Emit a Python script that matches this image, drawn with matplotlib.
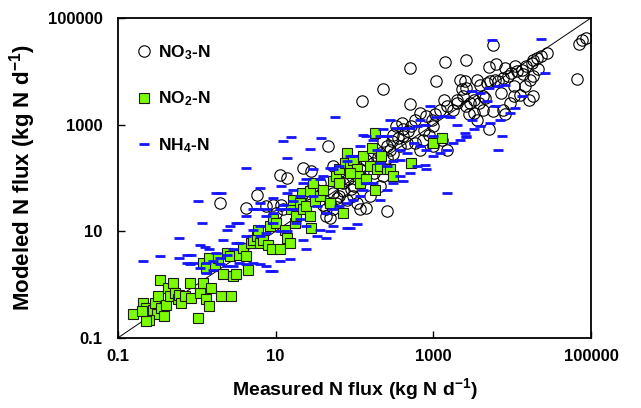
import numpy as np
import matplotlib
matplotlib.use('Agg')
import matplotlib.pyplot as plt
from matplotlib.ticker import FixedLocator, FixedFormatter, NullLocator

plt.rcParams['font.family'] = 'Liberation Sans'
plt.rcParams['font.weight'] = 'bold'
plt.rcParams['mathtext.fontset'] = 'custom'
plt.rcParams['mathtext.rm'] = 'Liberation Sans:bold'
plt.rcParams['mathtext.bf'] = 'Liberation Sans:bold'
plt.rcParams['mathtext.default'] = 'bf'

# values, log10(kg N per day)
no3_meas = [4.94, 4.85, 4.88, 4.82, 3.76, 4.44, 4.37, 4.31, 4.27, 4.25, 4.18, 4.12, 4.06, 3.99, 3.95,
            3.89, 3.82, 3.78, 3.72, 3.68, 3.59, 3.55, 3.80, 3.70, 3.91, 4.04, 4.14, 4.27, 4.23, 4.27,
            4.21, 4.10, 4.02, 3.97, 3.89, 3.91, 3.70, 3.76, 3.63, 3.55, 3.51, 3.47, 3.42, 3.38, 3.36,
            3.40, 3.34, 3.30, 3.25, 3.17, 3.13, 3.08, 3.02, 3.00, 2.98, 2.91, 2.83, 2.77, 2.72, 2.68,
            2.62, 2.60, 2.53, 2.49, 2.47, 2.41, 2.36, 2.70, 3.04, 3.15, 3.42, 2.71, 2.36, 2.10, 3.11,
            3.17, 3.00, 2.87, 2.83, 2.77, 2.66, 2.58, 2.49, 2.41, 2.32, 2.28, 2.24, 2.15, 2.11, 2.07,
            1.98, 1.92, 1.86, 1.81, 1.73, 1.73, 1.69, 1.64, 1.64, 1.69, 1.73, 1.77, 1.81, 1.90, 1.98,
            2.03, 2.07, 2.15, 2.20, 2.32, 2.36, 2.41, 1.66, 1.35, 1.45, 1.05, 1.14, 0.76, 0.63, 0.29,
            0.88, 0.97, 1.07, 1.09, 1.01, 1.31, 1.39, 1.48, 1.56, 4.02, 3.42, 3.51, 3.63,
            3.86, 3.66, 3.45, 3.30, 2.94, 2.55, 2.30, 1.95, 1.60, 3.58, 4.16, 4.33,
            1.78, 1.85, 2.00, 2.12, 2.25, 2.45, 2.62, 2.88]
no3_model = [4.63, 4.51, 4.58, 3.86, 4.50, 4.34, 4.28, 4.25, 4.22, 4.16, 4.09, 4.03, 4.00, 3.97, 3.91,
             3.88, 3.81, 3.84, 3.81, 3.78, 3.75, 3.83, 4.13, 4.08, 4.06, 4.09, 3.94, 3.91, 3.84, 3.53,
             3.47, 3.56, 3.53, 3.41, 3.28, 3.19, 2.92, 3.25, 3.28, 3.09, 3.22, 3.41, 3.34, 3.53, 3.66,
             3.81, 3.84, 3.47, 3.28, 3.34, 3.47, 3.28, 3.19, 2.97, 3.09, 3.16, 3.22, 3.09, 2.97, 2.88,
             2.91, 3.03, 2.97, 2.81, 2.69, 2.59, 2.69, 3.38, 3.81, 4.18, 4.22, 4.06, 3.66, 3.44, 2.72,
             2.53, 2.59, 2.72, 2.53, 2.66, 2.66, 2.59, 2.44, 2.38, 2.47, 2.22, 2.28, 2.34, 2.22, 2.16,
             2.09, 1.97, 1.91, 1.94, 2.22, 1.72, 1.53, 1.41, 1.28, 1.25, 1.41, 1.53, 1.66, 1.59, 1.66,
             1.53, 1.41, 1.44, 1.66, 1.84, 2.03, 1.38, 2.59, 2.19, 2.13, 2.06, 2.00, 1.68, 1.44, 1.53,
             1.47, 1.50, 1.50, 1.41, 1.34, 1.59, 1.69, 1.84, 1.91, 3.72, 3.69, 3.47, 3.53,
             3.60, 3.50, 3.20, 3.40, 2.80, 2.75, 2.40, 1.80, 1.50, 3.40, 3.72, 4.05,
             1.62, 1.75, 1.85, 1.98, 2.10, 2.52, 2.78, 2.90]

no2_meas = [-0.81, -0.68, -0.64, -0.62, -0.60, -0.56, -0.53, -0.51, -0.49, -0.47, -0.45, -0.41, -0.39,
            -0.37, -0.34, -0.30, -0.28, -0.24, -0.22, -0.20, -0.15, -0.09, -0.07, 0.02, 0.04, 0.08,
            0.12, 0.16, 0.18, 0.31, 0.44, -0.60, -0.64, -0.70, 0.08, 0.12, 0.16, 0.23, 0.27, 0.33,
            0.38, 0.42, 0.46, 0.50, 0.54, 0.59, 0.63, 0.65, 0.69, 0.71, 0.76, 0.78, 0.80, 0.84, 0.90,
            0.93, 0.95, 0.97, 1.01, 1.05, 1.12, 1.14, 1.18, 1.20, 1.22, 1.24, 1.26, 1.31, 1.33, 1.35,
            1.39, 1.43, 1.45, 1.43, 1.48, 1.50, 1.56, 1.60, 1.69, 1.73, 1.77, 1.81, 1.86, 1.88, 1.90,
            1.94, 1.98, 2.03, 2.05, 2.07, 2.11, 2.15, 2.20, 2.22, 2.26, 2.26, 2.28, 2.32, 2.34, 2.41,
            2.45, 2.49, 2.72, 3.00, 3.11, 1.94, 1.81]
no2_model = [-0.56, -0.34, -0.44, -0.66, -0.53, -0.47, -0.34, -0.56, -0.22, 0.09, -0.44, -0.59, -0.38,
             -0.06, -0.22, 0.03, -0.16, -0.28, -0.19, -0.34, -0.22, 0.03, -0.25, -0.63, -0.16, 0.03,
             -0.28, -0.41, -0.06, -0.22, -0.22, -0.66, -0.69, -0.50, 0.41, 0.31, 0.50, 0.34, 0.50, 0.19,
             0.59, 0.53, 0.16, 0.19, 0.56, 0.69, 0.53, 0.28, 0.78, 0.84, 0.91, 1.03, 0.78, 0.84, 0.75,
             1.09, 0.66, 1.22, 1.16, 0.66, 1.03, 0.88, 0.78, 1.41, 1.59, 1.16, 1.28, 1.53, 1.72, 1.41,
             1.47, 1.28, 1.06, 1.75, 1.91, 1.56, 1.66, 1.78, 1.53, 1.94, 2.03, 2.16, 1.34, 2.28, 2.47,
             2.22, 2.34, 2.16, 2.03, 1.91, 2.41, 1.97, 2.22, 2.56, 2.84, 1.78, 2.16, 2.22, 2.41, 2.16,
             2.16, 2.03, 2.28, 2.66, 2.75, 2.09, 1.91]

nh4_meas = [3.74, 4.37, 4.42, 3.82, 3.87, 4.12, 3.97, 4.04, 3.78, 3.68, 3.59, 3.49, 3.91, 3.82, 3.70,
            3.49, 3.40, 3.42, 3.30, 3.21, 3.13, 3.04, 2.96, 2.89, 2.83, 2.79, 2.70, 2.62, 2.53, 2.45,
            2.41, 2.36, 2.32, 2.28, 2.24, 2.15, 2.11, 2.07, 1.98, 1.94, 1.90, 1.81, 1.73, 1.69, 1.60,
            1.56, 1.48, 1.39, 1.35, 1.22, 1.14, 1.07, 0.97, 0.88, 0.80, 0.76, 0.71, 0.63, 0.54, 0.50,
            0.42, 0.38, 0.33, 0.25, 0.16, 0.10, 0.04, -0.07, -0.13, -0.22, -0.22, -0.47, -0.68, -0.13,
            -0.09, -0.05, 0.04, 0.12, 0.21, 0.29, 0.38, 0.46, 0.54, 0.63, 0.71, 0.80, 0.88, 0.97, 1.05,
            1.18, 0.93, 0.25, 0.31, 0.02, 0.06, 1.75, 1.20, 1.09, 1.58, 1.43, 1.14, 0.63, 0.80, 1.09,
            1.22, 1.31, 1.35, 1.39, 1.52, 1.64, 1.73, 1.90, 1.94, 2.03, 1.69, 1.56, 1.39, 1.26, 1.14,
            1.05, 0.97, 0.88, 0.80, 2.32, 2.41, 2.49, 2.58, 2.62, 2.70, 2.79, 2.91, 2.89, 3.17, 3.00,
            3.08, 3.17, 3.25, 3.34, 3.42, 3.51, 3.59, 3.72, 3.84, 2.58, 2.49, 2.41, 2.32, 2.24, 2.15,
            2.11, 2.07, 1.98, 1.90, 1.81, 1.73, 1.64, 1.52, 1.48, 1.31, 1.22, 1.14, 1.05, 0.97, 0.88,
            0.80, 0.71, 0.63, 0.54, 0.46, 0.38, 0.29, 0.21, 0.12, 0.50, 2.58, 2.66, 2.75, 2.83, 2.91,
            3.00]
nh4_model = [4.59, 4.61, 3.96, 2.53, 2.79, 3.54, 3.21, 3.31, 3.34, 3.44, 3.59, 3.63, 3.75, 3.72, 3.69,
             3.09, 2.84, 2.76, 3.00, 3.14, 3.17, 3.14, 3.34, 3.00, 3.09, 2.97, 2.94, 2.94, 2.94, 3.09,
             2.78, 2.91, 2.78, 2.53, 2.72, 2.78, 2.81, 2.59, 2.41, 2.41, 2.31, 2.22, 2.16, 2.19, 2.03,
             1.97, 2.16, 1.97, 1.91, 1.78, 1.72, 1.84, 1.63, 1.41, 1.53, 1.41, 1.41, 1.28, 1.16, 1.16,
             1.09, 1.03, 0.84, 0.59, 0.66, 0.71, 0.75, 0.56, 0.56, 0.50, 0.88, 0.53, 0.44, 0.41,
             0.38, 0.41, 0.31, 0.22, 0.28, 0.38, 0.34, 0.34, 0.41, 0.38, 0.41, 0.38, 0.34, 0.25, 0.44,
             0.47, 0.25, 1.72, 1.72, 1.56, 1.16, 3.14, 2.77, 2.69, 2.74, 2.54, 2.38, 2.19, 1.81, 1.50,
             1.41, 1.22, 0.84, 0.67, 0.91, 0.88, 1.09, 1.06, 1.06, 1.13, 1.00, 1.03, 1.09, 1.16, 1.00,
             1.00, 1.16, 0.97, 0.91, 1.59, 1.78, 1.91, 2.03, 1.94, 2.09, 2.22, 2.16, 2.25, 1.72, 2.41,
             2.47, 2.53, 2.66, 2.72, 2.78, 2.91, 2.97, 3.03, 3.09, 2.34, 2.31, 2.22, 2.28, 1.91, 1.91,
             1.78, 1.66, 1.59, 1.53, 1.47, 1.41, 1.34, 1.47, 1.66, 1.66, 1.56, 1.41, 1.41, 1.34, 1.28,
             1.09, 1.03, 0.91, 0.78, 0.66, 0.56, 0.50, 0.44, 0.41, 0.78, 2.53, 2.47, 2.66, 2.59, 2.53,
             2.78]

ticks = [0.1, 10, 1000, 100000]
tick_labels = ['0.1', '10', '1000', '100000']

fig = plt.figure(figsize=(6.41, 4.08), dpi=100)
ax = fig.add_axes([0.184, 0.172, 0.738, 0.784])

ax.plot([0.1, 100000], [0.1, 100000], color='black', lw=0.7, zorder=1)

ax.plot(10 ** np.array(no3_meas), 10 ** np.array(no3_model), 'o', ls='none', mfc='none', mec='black',
        ms=8.2, mew=0.8, label='NO$_3$-N', zorder=2)
ax.plot(10 ** np.array(no2_meas), 10 ** np.array(no2_model), 's', ls='none', mfc='#7CFC00', mec='#1a1a1a',
        ms=6.6, mew=0.8, label='NO$_2$-N', zorder=3)
ax.plot(10 ** np.array(nh4_meas), 10 ** np.array(nh4_model), '_', ls='none', color='#1414ff',
        ms=7.5, mew=2, label='NH$_4$-N', zorder=4)

ax.set_xscale('log')
ax.set_yscale('log')
ax.set_xlim(0.1, 100000)
ax.set_ylim(0.1, 100000)
for axis in (ax.xaxis, ax.yaxis):
    axis.set_major_locator(FixedLocator(ticks))
    axis.set_major_formatter(FixedFormatter(tick_labels))
    axis.set_minor_locator(NullLocator())
ax.tick_params(direction='in', length=5, width=1, labelsize=12)
ax.tick_params(axis='x', pad=8)
ax.tick_params(axis='y', pad=11)
for lab in ax.get_xticklabels() + ax.get_yticklabels():
    lab.set_fontweight('bold')
for sp in ax.spines.values():
    sp.set_linewidth(1.3)

ax.set_xlabel('Measured N flux (kg N d$^{-1}$)', fontsize=14, fontweight='bold', labelpad=9)
ax.set_ylabel('Modeled N flux (kg N d$^{-1}$)', fontsize=16, fontweight='bold', labelpad=7)

ax.legend(loc='upper left', bbox_to_anchor=(0.0, 0.975), frameon=False, labelspacing=1.6,
          handletextpad=0.3, handlelength=1.0, borderaxespad=0.6, prop={'weight': 'bold', 'size': 12.5})

fig.savefig('out.png', dpi=100)
